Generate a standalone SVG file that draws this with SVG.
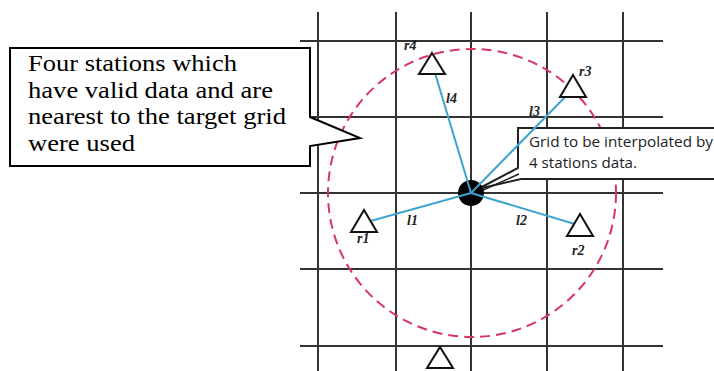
<svg xmlns="http://www.w3.org/2000/svg" width="714" height="371" viewBox="0 0 714 371">
<style>
.grid{stroke:#333;stroke-width:2;fill:none}
.tri{fill:#fff;stroke:#111;stroke-width:2;stroke-linejoin:miter}
.blue{stroke:#3ea4cf;stroke-width:2}
.lab{font-family:'Liberation Serif','Times New Roman',serif;font-style:italic;font-weight:bold;font-size:14px;fill:#222}
.big{font-family:'Liberation Serif','Times New Roman',serif;font-size:23px;fill:#000}
.small{font-family:'Open Sans','Liberation Sans',sans-serif;font-size:14px;fill:#222}
</style>
<rect width="714" height="371" fill="#fff"/>
<g id="grid" class="grid">
<path d="M300 41H663M300 117H663M300 193H663M300 269H663M300 346H663"/>
<path d="M318 12V371M396 12V371M471 12V371M547 12V371M623 12V371"/>
</g>
<g id="range">
<circle cx="472" cy="193" r="144" fill="none" stroke="#d8365f" stroke-width="2" stroke-dasharray="10 6"/>
</g>
<g id="callout-grid">
<path d="M714 128H518V168L478 189L521 179H714" fill="#fff" stroke="#222" stroke-width="2"/>
<path d="M481 191L519 174" stroke="#222" stroke-width="1.5"/>
<text class="small" x="529" y="147" textLength="184" lengthAdjust="spacingAndGlyphs">Grid to be interpolated by</text>
<text class="small" x="529" y="168" textLength="108" lengthAdjust="spacingAndGlyphs">4 stations data.</text>
</g>
<g id="target">
<circle cx="471" cy="193" r="13" fill="#000"/>
</g>
<g id="connectors">
<path class="blue" d="M471 193L432 63M471 193L573 89M471 193L367 222M471 193L578 225"/>
</g>
<g id="r4">
<path class="tri" d="M432 53L445 74H419Z"/>
<text class="lab" x="404" y="50">r4</text>
<text class="lab" x="446" y="103">l4</text>
</g>
<g id="r3">
<path class="tri" d="M573 75L586 97H560Z"/>
<text class="lab" x="579" y="76">r3</text>
<text class="lab" x="529" y="116">l3</text>
</g>
<g id="r1">
<path class="tri" d="M364 210L377 232H351Z"/>
<text class="lab" x="357" y="243">r1</text>
<text class="lab" x="407" y="225">l1</text>
</g>
<g id="r2">
<path class="tri" d="M580 214L593 236H567Z"/>
<text class="lab" x="572" y="255">r2</text>
<text class="lab" x="516" y="225">l2</text>
</g>
<g id="r5">
<path class="tri" d="M440 347L453 368H427Z"/>
</g>
<g id="callout-text">
<path d="M10 48H310V117L360 138L310 146V166H10Z" fill="#fff" stroke="#000" stroke-width="2"/>
<text class="big" x="28" y="71" textLength="209" lengthAdjust="spacingAndGlyphs">Four stations which</text>
<text class="big" x="28" y="98" textLength="245" lengthAdjust="spacingAndGlyphs">have valid data and are</text>
<text class="big" x="28" y="124" textLength="258" lengthAdjust="spacingAndGlyphs">nearest to the target grid</text>
<text class="big" x="28" y="151" textLength="107" lengthAdjust="spacingAndGlyphs">were used</text>
</g>
</svg>
